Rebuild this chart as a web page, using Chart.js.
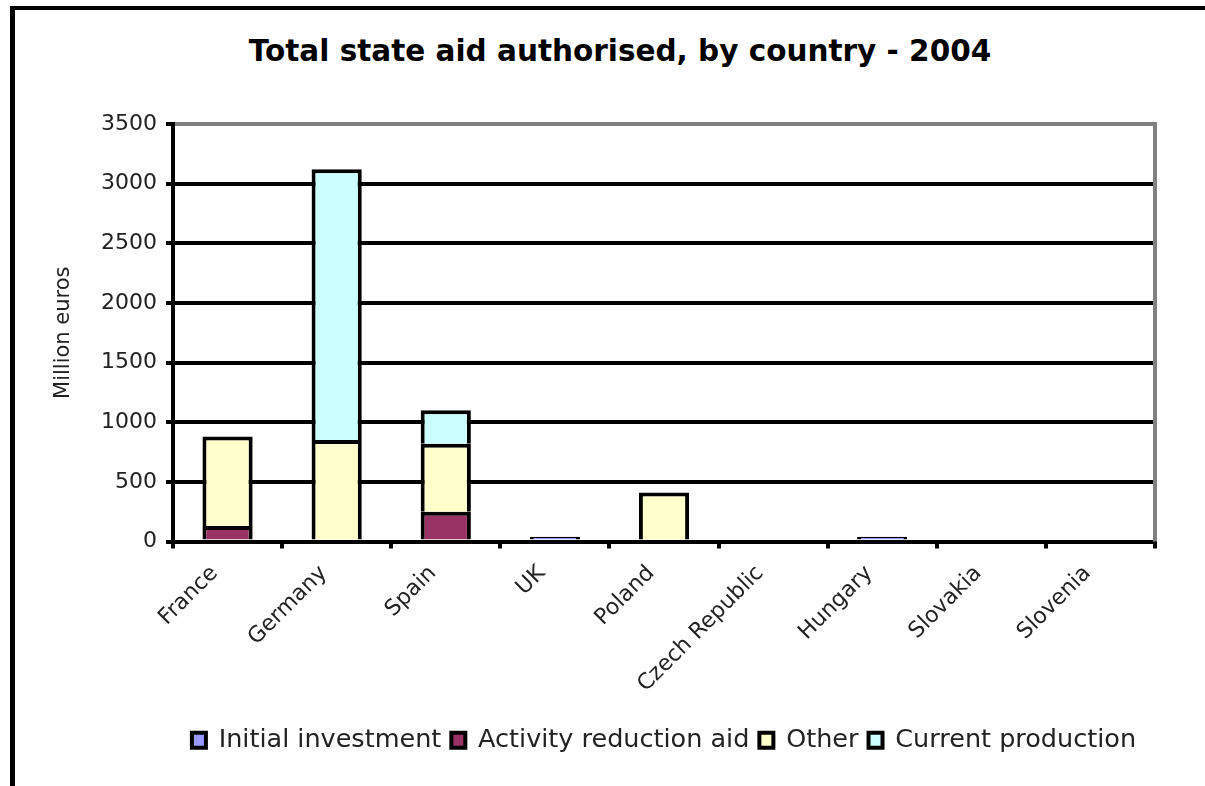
<!DOCTYPE html>
<html>
<head>
<meta charset="utf-8">
<script src="https://cdn.jsdelivr.net/npm/chart.js@4"></script>
<style>
  body { margin: 0; background: #fff; overflow: hidden; }
  #wrap { position: relative; width: 1205px; height: 786px; }
  #frame { position: absolute; left: 10px; top: 6px; width: 1300px; height: 900px;
           border-left: 5px solid #000; border-top: 4px solid #000; }
  #title { position: absolute; left: 0; top: 34px; width: 1240px; text-align: center;
           font: bold 29.5px "DejaVu Sans"; line-height: 34px; color: #000; }
  canvas { position: absolute; left: 0; top: 0; }
</style>
</head>
<body>
<div id="wrap">
  <div id="frame"></div>
  <div id="title">Total state aid authorised, by country - 2004</div>
  <canvas id="myChart" width="1205" height="786"></canvas>
</div>
<script>
// values, million euros
var countries = ['France', 'Germany', 'Spain', 'UK', 'Poland', 'Czech Republic', 'Hungary', 'Slovakia', 'Slovenia'];
var initial_investment = [0, 0, 0, 40, 0, 0, 40, 0, 0];
var activity_reduction = [130, 0, 250, 0, 0, 0, 0, 0, 0];
var other = [750, 850, 570, 0, 410, 0, 0, 0, 0];
var current_production = [0, 2270, 280, 0, 0, 0, 0, 0, 0];

// gray frame on the right of the plot area
const rightEdge = {
    id: 'rightEdge',
    afterDraw: function(chart) {
        const a = chart.chartArea;
        const c = chart.ctx;
        c.save();
        c.strokeStyle = '#808080';
        c.lineWidth = 4;
        c.beginPath();
        c.moveTo(a.right, a.top - 2);
        c.lineTo(a.right, a.bottom);
        c.stroke();
        c.restore();
    }
};

const ctx = document.getElementById('myChart').getContext('2d');
const myChart = new Chart(ctx, {
    type: 'bar',
    data: {
        labels: countries,
        datasets: [
            { label: 'Initial investment', data: initial_investment, backgroundColor: '#9999FF' },
            { label: 'Activity reduction aid', data: activity_reduction, backgroundColor: '#993366' },
            { label: 'Other', data: other, backgroundColor: '#FFFFCC' },
            { label: 'Current production', data: current_production, backgroundColor: '#CCFFFF' }
        ]
    },
    options: {
        responsive: false,
        animation: false,
        layout: { padding: { top: 124, right: 50, left: 20, bottom: 23 } },
        datasets: {
            bar: {
                borderColor: '#000',
                borderWidth: 4,
                barPercentage: 0.46,
                categoryPercentage: 1.0
            }
        },
        plugins: {
            title: { display: false },
            tooltip: { enabled: false },
            legend: {
                position: 'bottom',
                fullSize: false,
                labels: {
                    boxWidth: 14,
                    boxHeight: 15,
                    padding: 10,
                    color: '#222',
                    font: { family: 'DejaVu Sans', size: 25.5 }
                }
            }
        },
        scales: {
            x: {
                stacked: true,
                z: 1,
                border: { color: '#000', width: 4 },
                grid: { drawOnChartArea: false, offset: true, color: '#000', lineWidth: 4, tickLength: 7 },
                ticks: {
                    minRotation: 45,
                    maxRotation: 45,
                    labelOffset: -13,
                    color: '#222',
                    padding: 12,
                    font: { family: 'DejaVu Sans', size: 22 }
                },
                afterFit: function(scale) { scale.height = 176; }
            },
            y: {
                stacked: true,
                min: 0,
                max: 3500,
                border: { color: '#000', width: 4 },
                grid: {
                    color: function(c) { return c.tick && c.tick.value === 3500 ? '#808080' : '#000'; },
                    tickColor: '#000',
                    lineWidth: 4,
                    tickLength: 7
                },
                ticks: {
                    stepSize: 500,
                    padding: 9,
                    color: '#222',
                    font: { family: 'DejaVu Sans', size: 22 },
                    callback: function(value) { return value; }
                },
                title: {
                    display: true,
                    text: 'Million euros',
                    color: '#222',
                    padding: { top: 31, bottom: 0 },
                    font: { family: 'DejaVu Sans', size: 21 }
                },
                afterFit: function(scale) { scale.width = 153; }
            }
        }
    },
    plugins: [rightEdge]
});
</script>
</body>
</html>
